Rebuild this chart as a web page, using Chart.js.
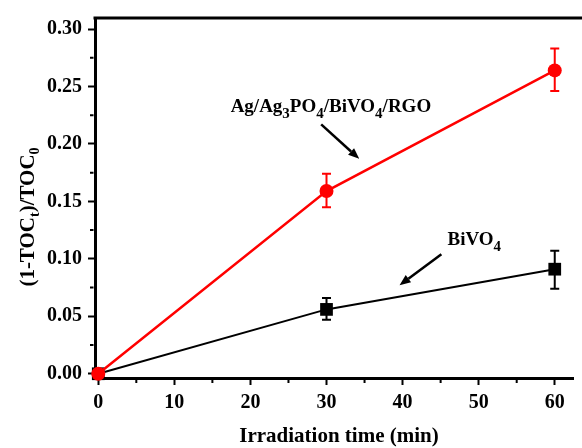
<!DOCTYPE html>
<html>
<head>
<meta charset="utf-8">
<script src="https://cdn.jsdelivr.net/npm/chart.js@4/dist/chart.umd.min.js"></script>
<style>
  html, body { margin: 0; padding: 0; background: #fff; }
  #wrap { width: 582px; height: 448px; }
</style>
</head>
<body>
<div id="wrap"><canvas id="tocChart" width="582" height="448"></canvas></div>
<script>
// irradiation time (min)
const times = [0, 30, 60];

// Ag/Ag3PO4/BiVO4/RGO
const compositeValues = [0, 0.159, 0.264];
const compositeLow = [0, 0.145, 0.246];
const compositeHigh = [0, 0.174, 0.283];

// BiVO4
const bivo4Values = [0, 0.056, 0.091];
const bivo4Low = [0, 0.047, 0.074];
const bivo4High = [0, 0.066, 0.107];

// ticks
const xTicks = [0, 5, 10, 15, 20, 25, 30, 35, 40, 45, 50, 55, 60];
const xLabels = ['0', '', '10', '', '20', '', '30', '', '40', '', '50', '', '60'];
const yTicks = [0, 0.025, 0.05, 0.075, 0.1, 0.125, 0.15, 0.175, 0.2, 0.225, 0.25, 0.275, 0.3];
const yLabels = ['0.00', '', '0.05', '', '0.10', '', '0.15', '', '0.20', '', '0.25', '', '0.30'];

const serif = '"Liberation Serif", "Times New Roman", serif';

// draws text made of [string, isSubscript] parts, left aligned
function partsWidth(ctx, parts, size, subSize) {
    let w = 0;
    parts.forEach(p => {
        ctx.font = 'bold ' + (p[1] ? subSize : size) + 'px ' + serif;
        w += ctx.measureText(p[0]).width;
    });
    return w;
}
function drawParts(ctx, parts, x, y, size, subSize, subDrop) {
    ctx.textAlign = 'left';
    ctx.textBaseline = 'alphabetic';
    parts.forEach(p => {
        ctx.font = 'bold ' + (p[1] ? subSize : size) + 'px ' + serif;
        ctx.fillText(p[0], x, p[1] ? y + subDrop : y);
        x += ctx.measureText(p[0]).width;
    });
}
function arrow(ctx, x1, y1, x2, y2) {
    const ang = Math.atan2(y2 - y1, x2 - x1);
    const head = 11, half = 4.5;
    const bx = x2 - head * Math.cos(ang), by = y2 - head * Math.sin(ang);
    ctx.strokeStyle = '#000';
    ctx.lineWidth = 2.5;
    ctx.beginPath();
    ctx.moveTo(x1, y1);
    ctx.lineTo(bx, by);
    ctx.stroke();
    ctx.fillStyle = '#000';
    ctx.beginPath();
    ctx.moveTo(x2, y2);
    ctx.lineTo(bx + half * Math.sin(ang), by - half * Math.cos(ang));
    ctx.lineTo(bx - half * Math.sin(ang), by + half * Math.cos(ang));
    ctx.closePath();
    ctx.fill();
}

const errorBars = {
    id: 'errorBars',
    beforeDatasetsDraw(chart) {
        const ctx = chart.ctx, xs = chart.scales.x, ys = chart.scales.y;
        const sets = [
            [compositeLow, compositeHigh, '#ff0000'],
            [bivo4Low, bivo4High, '#000000']
        ];
        ctx.save();
        ctx.lineWidth = 2;
        sets.forEach(s => {
            ctx.strokeStyle = s[2];
            times.forEach((t, i) => {
                if (s[1][i] - s[0][i] <= 0) return;
                const px = xs.getPixelForValue(t);
                const lo = ys.getPixelForValue(s[0][i]);
                const hi = ys.getPixelForValue(s[1][i]);
                ctx.beginPath();
                ctx.moveTo(px, lo); ctx.lineTo(px, hi);
                ctx.moveTo(px - 4.5, lo); ctx.lineTo(px + 4.5, lo);
                ctx.moveTo(px - 4.5, hi); ctx.lineTo(px + 4.5, hi);
                ctx.stroke();
            });
        });
        ctx.restore();
    }
};

const decorations = {
    id: 'decorations',
    afterDraw(chart) {
        const ctx = chart.ctx, xs = chart.scales.x, ys = chart.scales.y;
        const area = chart.chartArea;
        ctx.save();
        // top frame line
        ctx.strokeStyle = '#000';
        ctx.lineWidth = 3;
        ctx.beginPath();
        ctx.moveTo(area.left - 1.5, area.top);
        ctx.lineTo(chart.width, area.top);
        ctx.stroke();

        // short minor ticks
        ctx.lineWidth = 2;
        ctx.beginPath();
        xTicks.forEach((v, i) => {
            if (xLabels[i]) return;
            const px = xs.getPixelForValue(v);
            ctx.moveTo(px, area.bottom + 1.5);
            ctx.lineTo(px, area.bottom + 5);
        });
        yTicks.forEach((v, i) => {
            if (yLabels[i]) return;
            const py = ys.getPixelForValue(v);
            ctx.moveTo(area.left - 1.5, py);
            ctx.lineTo(area.left - 5, py);
        });
        ctx.stroke();

        ctx.fillStyle = '#000';
        // annotation labels
        drawParts(ctx, [['Ag/Ag', 0], ['3', 1], ['PO', 0], ['4', 1], ['/BiVO', 0], ['4', 1], ['/RGO', 0]],
            xs.getPixelForValue(17.4), ys.getPixelForValue(0.228), 19, 15, 6);
        arrow(ctx, xs.getPixelForValue(29.3), ys.getPixelForValue(0.217),
            xs.getPixelForValue(34.3), ys.getPixelForValue(0.187));

        drawParts(ctx, [['BiVO', 0], ['4', 1]],
            xs.getPixelForValue(45.9), ys.getPixelForValue(0.112), 19, 15, 6);
        arrow(ctx, xs.getPixelForValue(45.1), ys.getPixelForValue(0.104),
            xs.getPixelForValue(39.6), ys.getPixelForValue(0.077));

        // x axis title
        ctx.font = 'bold 21px ' + serif;
        ctx.textAlign = 'center';
        ctx.textBaseline = 'middle';
        ctx.fillText('Irradiation time (min)', 339, 437);

        // y axis title, rotated
        const parts = [['(1-TOC', 0], ['t', 1], [')/TOC', 0], ['0', 1]];
        const w = partsWidth(ctx, parts, 21, 14);
        ctx.translate(34, 217);
        ctx.rotate(-Math.PI / 2);
        drawParts(ctx, parts, -w / 2, 0, 21, 14, 5);
        ctx.restore();
    }
};

const ctx = document.getElementById('tocChart').getContext('2d');

const tocChart = new Chart(ctx, {
    type: 'line',
    data: {
        datasets: [
            {
                label: 'Ag/Ag3PO4/BiVO4/RGO',
                data: times.map((t, i) => ({ x: t, y: compositeValues[i] })),
                borderColor: '#ff0000',
                backgroundColor: '#ff0000',
                borderWidth: 2.5,
                pointStyle: 'circle',
                pointRadius: 7,
                pointBorderWidth: 0,
                clip: false
            },
            {
                label: 'BiVO4',
                data: times.map((t, i) => ({ x: t, y: bivo4Values[i] })),
                borderColor: '#000000',
                backgroundColor: '#000000',
                borderWidth: 2,
                pointStyle: 'rect',
                pointRadius: 9,
                pointBorderWidth: 0,
                clip: false
            }
        ]
    },
    options: {
        responsive: false,
        animation: false,
        layout: { padding: { top: 14, right: 0, left: 0, bottom: 0 } },
        plugins: {
            legend: { display: false },
            tooltip: { enabled: false }
        },
        scales: {
            x: {
                type: 'linear',
                min: -0.43,
                max: 62.4,
                afterFit: scale => { scale.height = 70; },
                afterBuildTicks: scale => { scale.ticks = xTicks.map(v => ({ value: v })); },
                border: { color: '#000', width: 3 },
                grid: {
                    drawOnChartArea: false, tickLength: 7, tickWidth: 2,
                    tickColor: c => xLabels[c.index] ? '#000' : 'rgba(0,0,0,0)'
                },
                ticks: {
                    color: '#000',
                    padding: 6,
                    maxRotation: 0,
                    autoSkip: false,
                    font: { family: serif, size: 20, weight: 'bold' },
                    callback: (v, i) => xLabels[i]
                }
            },
            y: {
                min: -0.0037,
                max: 0.3096,
                afterFit: scale => { scale.width = 95; },
                afterBuildTicks: scale => { scale.ticks = yTicks.map(v => ({ value: v })); },
                border: { color: '#000', width: 3 },
                grid: {
                    drawOnChartArea: false, tickLength: 7, tickWidth: 2,
                    tickColor: c => yLabels[c.index] ? '#000' : 'rgba(0,0,0,0)'
                },
                ticks: {
                    color: '#000',
                    padding: 6,
                    autoSkip: false,
                    font: { family: serif, size: 20, weight: 'bold' },
                    callback: (v, i) => yLabels[i]
                }
            }
        }
    },
    plugins: [errorBars, decorations]
});
</script>
</body>
</html>
